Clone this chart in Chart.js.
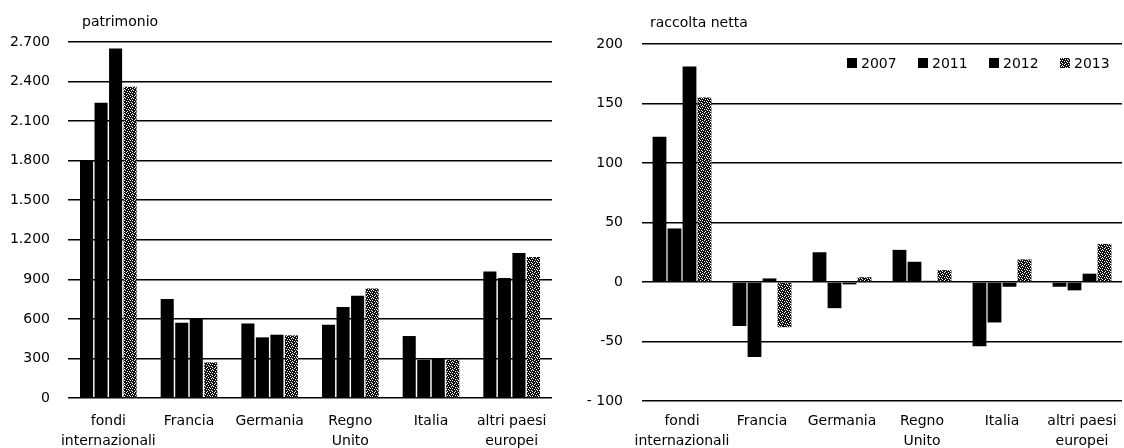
<!DOCTYPE html>
<html>
<head>
<meta charset="utf-8">
<script src="https://cdn.jsdelivr.net/npm/chart.js@4/dist/chart.umd.min.js"></script>
<style>
  html, body { margin: 0; padding: 0; background: #fff; }
  #wrap { position: relative; width: 1124px; height: 448px; overflow: hidden; }
  .panel { position: absolute; top: 0; width: 562px; height: 448px; }
  #leftPanel { left: 0; }
  #rightPanel { left: 562px; }
</style>
</head>
<body>
<div id="wrap">
  <div class="panel" id="leftPanel"><canvas id="patrimonio" width="562" height="448"></canvas></div>
  <div class="panel" id="rightPanel"><canvas id="raccolta" width="562" height="448"></canvas></div>
</div>
<script>
// Categories and series (miliardi di euro)
const categories = [["fondi", "internazionali"], "Francia", "Germania", ["Regno", "Unito"], "Italia", ["altri paesi", "europei"]];
const years = ["2007", "2011", "2012", "2013"];

// patrimonio
const patr2007 = [1800, 750, 565, 555, 470, 960];
const patr2011 = [2240, 570, 460, 690, 290, 910];
const patr2012 = [2650, 600, 480, 775, 300, 1100];
const patr2013 = [2360, 270, 475, 830, 290, 1070];

// raccolta netta
const racc2007 = [122, -37, 25, 27, -54, -4];
const racc2011 = [45, -63, -22, 17, -34, -7];
const racc2012 = [181, 3, -2, 1, -4, 7];
const racc2013 = [155, -38, 4, 10, 19, 32];

const patrTicks = ["0", "300", "600", "900", "1.200", "1.500", "1.800", "2.100", "2.400", "2.700"];
const raccTicks = ["- 100", "-50", "0", "50", "100", "150", "200"];

const FONT = '"DejaVu Sans", "Liberation Sans", sans-serif';

// speckled fill used for the 2013 series
function speckle() {
  const rows = [
    "11011101",
    "01110111",
    "11101011",
    "10111110",
    "11010111",
    "01111101",
    "10101111",
    "11110110"
  ];
  const c = document.createElement('canvas');
  c.width = 8; c.height = 8;
  const g = c.getContext('2d');
  g.fillStyle = '#fff';
  g.fillRect(0, 0, 8, 8);
  g.fillStyle = '#111';
  rows.forEach((r, y) => { [...r].forEach((b, x) => { if (b === '1') g.fillRect(x, y, 1, 1); }); });
  return g.createPattern(c, 'repeat');
}
const speckFill = speckle();
const fills = ['#000', '#000', '#000', speckFill];

// panel title drawn at a fixed offset from the plot area
const panelTitle = {
  id: 'panelTitle',
  afterDraw(chart, args, opts) {
    const ctx = chart.ctx;
    ctx.save();
    ctx.font = '14px ' + FONT;
    ctx.fillStyle = '#000';
    ctx.textBaseline = 'middle';
    ctx.textAlign = 'left';
    ctx.fillText(opts.text, chart.chartArea.left + opts.dx, opts.y);
    ctx.restore();
  }
};

// legend placed inside the plot area
const innerLegend = {
  id: 'innerLegend',
  afterDraw(chart, args, opts) {
    if (!opts.show) return;
    const ctx = chart.ctx;
    ctx.save();
    ctx.font = '14px ' + FONT;
    ctx.textBaseline = 'middle';
    ctx.textAlign = 'left';
    let x = opts.x;
    chart.data.datasets.forEach(ds => {
      ctx.fillStyle = ds.backgroundColor;
      ctx.fillRect(x, opts.y - 5, 10, 10);
      ctx.fillStyle = '#000';
      ctx.fillText(ds.label, x + 14, opts.y + 1);
      x += 71;
    });
    ctx.restore();
  }
};

function makeChart(id, series, cfg) {
  return new Chart(document.getElementById(id), {
    type: 'bar',
    data: {
      labels: categories,
      datasets: series.map((s, i) => ({
        label: years[i],
        data: s,
        backgroundColor: fills[i],
        borderWidth: 0,
        categoryPercentage: cfg.catPct,
        barPercentage: cfg.barPct
      }))
    },
    options: {
      responsive: false,
      devicePixelRatio: 1,
      animation: false,
      layout: { padding: { top: cfg.top, right: cfg.right, left: 0, bottom: 0 } },
      plugins: {
        legend: { display: false },
        tooltip: { enabled: false },
        panelTitle: { text: cfg.title, dx: cfg.titleDx, y: cfg.titleY },
        innerLegend: { show: cfg.legend, x: 285, y: 63 }
      },
      scales: {
        x: {
          grid: { display: false },
          border: { display: false },
          ticks: {
            color: '#000',
            font: { family: FONT, size: 14, lineHeight: 1.45 },
            padding: cfg.xPad,
            maxRotation: 0,
            autoSkip: false
          },
          afterFit: s => { s.height = cfg.xHeight; }
        },
        y: {
          min: cfg.min,
          max: cfg.max,
          grid: { color: '#000', lineWidth: 1.5, drawTicks: false },
          border: { display: false },
          ticks: {
            stepSize: cfg.step,
            color: '#000',
            font: { family: FONT, size: 14 },
            padding: cfg.yPad,
            callback: (v, i) => cfg.tickLabels[i]
          },
          afterFit: s => { s.width = cfg.yWidth; }
        }
      }
    },
    plugins: [panelTitle, innerLegend]
  });
}

makeChart('patrimonio', [patr2007, patr2011, patr2012, patr2013], {
  title: 'patrimonio', titleDx: 14, titleY: 22,
  min: 0, max: 2700, step: 300, tickLabels: patrTicks,
  top: 42, right: 10, xHeight: 50, yWidth: 68, xPad: 5, yPad: 18,
  catPct: 0.72, barPct: 0.9, legend: false
});

makeChart('raccolta', [racc2007, racc2011, racc2012, racc2013], {
  title: 'raccolta netta', titleDx: 8, titleY: 23,
  min: -100, max: 200, step: 50, tickLabels: raccTicks,
  top: 44, right: 2, xHeight: 47, yWidth: 80, xPad: 2, yPad: 19,
  catPct: 0.75, barPct: 0.92, legend: true
});
</script>
</body>
</html>
